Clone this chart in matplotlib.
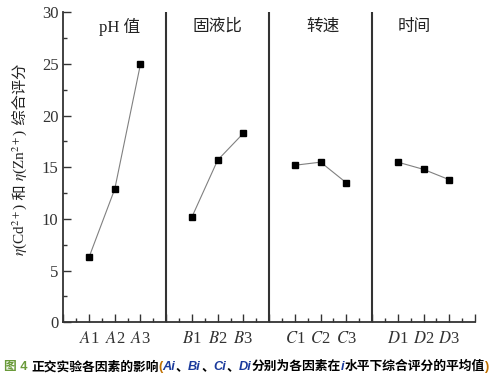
import matplotlib
matplotlib.use("Agg")
import matplotlib.pyplot as plt
from matplotlib.ticker import MultipleLocator, FixedLocator

plt.rcParams['font.family'] = ['Liberation Serif', 'Noto Sans CJK SC']
plt.rcParams['mathtext.fontset'] = 'stix'

# factor groups and level scores
groups = ['pH 值', '固液比', '转速', '时间']
letters = ['A', 'B', 'C', 'D']
levels = ['1', '2', '3']
scores = [
    [6.3, 12.9, 25.0],
    [10.2, 15.7, 18.3],
    [15.2, 15.5, 13.5],
    [15.5, 14.8, 13.8],
]
title_x = [2.2, 6.0, 10.1, 13.65]

fig = plt.figure(figsize=(4.93, 3.80), dpi=100)
ax = fig.add_axes([0.1284, 0.1518, 0.8351, 0.8158])

tick_pos = []
tick_lab = []
for g in range(4):
    xs = [4 * g + 1 + k for k in range(3)]
    ax.plot(xs, scores[g], color='#808080', lw=0.8, zorder=2)
    ax.plot(xs, scores[g], ls='none', marker='s', ms=4.5, color='black', zorder=3)
    ax.text(title_x[g], 28.6, groups[g], ha='center', va='center', fontsize=12, color='#222222')
    for k in range(3):
        tick_pos.append(xs[k])
        tick_lab.append(r'$\mathit{%s}$%s' % (letters[g], levels[k]))
    if g > 0:
        ax.axvline(4 * g, color='#333333', lw=1.5, zorder=1)

ax.set_xlim(0, 16)
ax.set_ylim(0, 30)
ax.xaxis.set_major_locator(FixedLocator(list(range(0, 17))))
ax.xaxis.set_minor_locator(MultipleLocator(0.5))
labs = [''] * 17
for p, l in zip(tick_pos, tick_lab):
    labs[p] = l
ax.set_xticklabels(labs, fontsize=12, color='#333333')
ax.yaxis.set_major_locator(MultipleLocator(5))
ax.yaxis.set_minor_locator(MultipleLocator(2.5))
ax.tick_params(axis='y', labelsize=12, labelcolor='#333333')
ax.tick_params(which='major', direction='in', length=6, width=1.0, color='#333333')
ax.tick_params(which='minor', direction='in', length=3, width=1.0, color='#333333')
ax.tick_params(axis='x', pad=6)
ax.spines['top'].set_visible(False)
ax.spines['right'].set_visible(False)
for s in ['left', 'bottom']:
    ax.spines[s].set_color('#333333')
    ax.spines[s].set_linewidth(1.3)

fig.canvas.draw()
renderer = fig.canvas.get_renderer()

# rotated y label, stacked from the bottom up in pieces
ylab = [
    (r'$\eta$(Cd$^{2+}$)', None),
    (' 和 ', ['Noto Sans CJK SC']),
    (r'$\eta$(Zn$^{2+}$)', None),
    (' 综合评分', ['Noto Sans CJK SC']),
]
y = 256.0
for txt, fam in ylab:
    kw = {} if fam is None else {'family': fam}
    t = fig.text(20 / 493, 1 - y / 380, txt, rotation=90, ha='center', va='bottom',
                 fontsize=11, color='#222222', **kw)
    bb = t.get_window_extent(renderer)
    y -= bb.height

# caption built from coloured pieces
pieces = [
    ('图 4 ', '#6a9a3a', 'normal'),
    ('正交实验各因素的影响', 'black', 'normal'),
    ('(', '#c07000', 'normal'),
    ('Ai', '#1a3a9c', 'italic'),
    ('、', 'black', 'normal'),
    ('Bi', '#1a3a9c', 'italic'),
    ('、', 'black', 'normal'),
    ('Ci', '#1a3a9c', 'italic'),
    ('、', 'black', 'normal'),
    ('Di', '#1a3a9c', 'italic'),
    ('分别为各因素在', 'black', 'normal'),
    ('i', '#1a3a9c', 'italic'),
    ('水平下综合评分的平均值', 'black', 'normal'),
    (')', '#c07000', 'normal'),
]
x = 4.0
for txt, col, style in pieces:
    t = fig.text(x / 493, 1 - 367 / 380, txt, color=col, fontsize=9.2, fontweight='bold',
                 style=style, family=['Liberation Sans', 'Noto Sans CJK SC'],
                 ha='left', va='center')
    bb = t.get_window_extent(renderer)
    x += bb.width

fig.savefig('out.png', dpi=100)
